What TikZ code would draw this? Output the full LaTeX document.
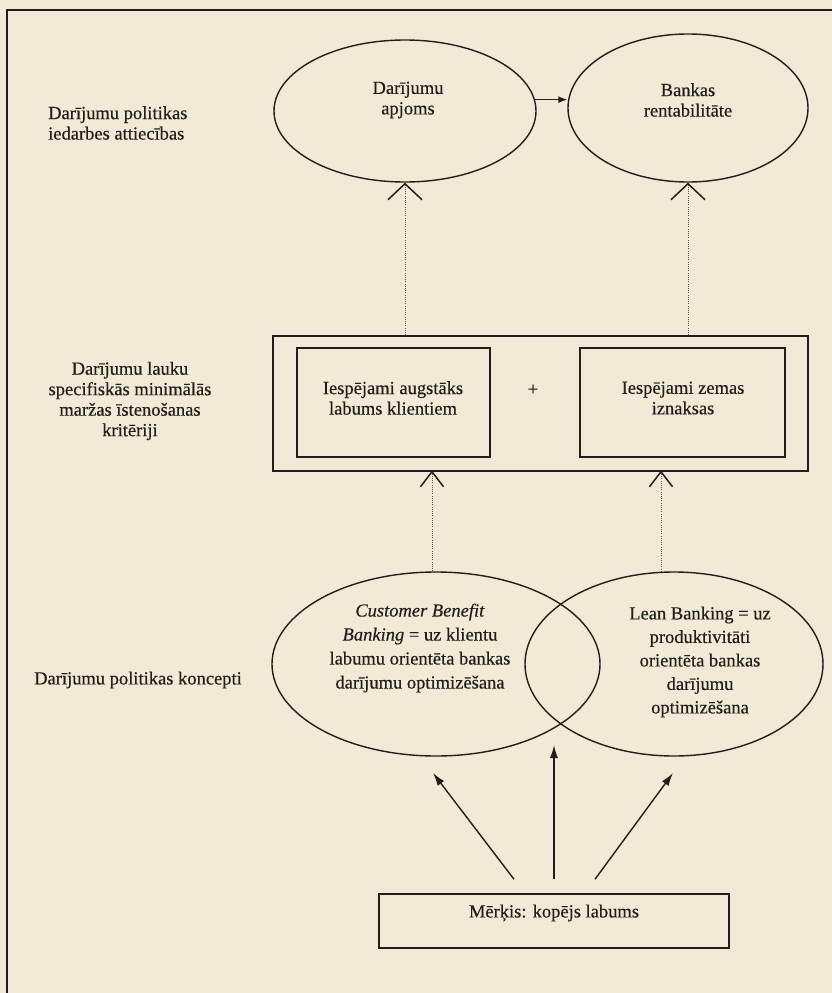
\documentclass[tikz,border=0pt]{standalone}
\usepackage{fontspec}
\setmainfont{Liberation Serif}[FakeBold=0.4]
\usetikzlibrary{shapes.geometric,arrows.meta,calc}
\definecolor{paper}{RGB}{242,234,214}
\definecolor{ink}{RGB}{34,30,27}
\begin{document}
\begin{tikzpicture}[x=1pt,y=-1pt,
  every node/.style={text=ink},
  txt/.style={align=center, inner sep=0pt, font=\fontsize{18.5}{20.5}\selectfont},
  widetxt/.style={align=center, inner sep=0pt, font=\fontsize{18.5}{24}\selectfont},
  oval/.style={draw=ink, line width=1.4pt, ellipse, inner sep=0pt},
  box/.style={draw=ink, line width=1.5pt, rectangle, inner sep=0pt},
  dotline/.style={draw=ink!75, line width=0.8pt, dash pattern=on 1pt off 1.2pt},
  barbwide/.style={-{Straight Barb[length=16pt,width=34pt,line width=1.5pt,color=ink]}},
  barbnarrow/.style={-{Straight Barb[length=15pt,width=23pt,line width=1.5pt,color=ink]}},
  solidarrow/.style={draw=ink, line width=1.4pt, -{Latex[length=13pt,width=8pt]}},
]
% page and frame
\fill[paper] (0,0) rectangle (832,993);
\useasboundingbox (0,0) rectangle (832,993);
\draw[ink, line width=1.6pt] (832,10) -- (7,10) -- (7,993);

% upper level: volume and profitability
\node[oval, minimum width=262pt, minimum height=142pt] (e1) at (405,111) {};
\node[oval, minimum width=240pt, minimum height=148pt] (e2) at (688,108) {};
\node[txt] (t1) at (408,100) {Darījumu\\apjoms};
\node[txt] (t2) at (688,100) {Bankas\\rentabilitāte};
\draw[draw=ink, line width=1.4pt, -{Latex[length=9pt,width=7pt]}] (e1.5) -- (e2.west |- e1.5);

% middle level: benefit and cost boxes
\node[box, minimum width=535pt, minimum height=135pt] (outer) at (540.5,403.5) {};
\node[box, minimum width=193pt, minimum height=109pt] (b1) at (393.5,402.5) {};
\node[box, minimum width=205pt, minimum height=109pt] (b2) at (682.5,402.5) {};
\node[txt] (tb1) at (393,398) {Iespējami augstāks\\labums klientiem};
\node[txt] (tb2) at (683,398) {Iespējami zemas\\iznaksas};
\node[txt] (plus) at (533,390) {+};

% lower level: the two concepts
\node[oval, minimum width=328pt, minimum height=184pt] (cb) at (436,664) {};
\node[oval, minimum width=298pt, minimum height=184pt] (lb) at (674,664) {};
\node[widetxt] (tcb) at (420,648) {\textit{Customer Benefit}\\\textit{Banking} = uz klientu\\labumu orientēta bankas\\darījumu optimizēšana};
\node[widetxt, font=\fontsize{18.5}{23.5}\selectfont] (tlb) at (700,662) {Lean Banking = uz\\produktivitāti\\orientēta bankas\\darījumu\\optimizēšana};

% goal
\node[box, minimum width=350pt, minimum height=54pt] (goal) at (554,921) {};
\node[txt] (gtxt) at (554,913) {Mērķis: kopējs labums};

% row captions
\node[txt, align=left, anchor=west] (cap1) at (48,123) {Darījumu politikas\\iedarbes attiecības};
\node[txt] (cap2) at (130,401) {Darījumu lauku\\specifiskās minimālās\\maržas īstenošanas\\kritēriji};
\node[txt, anchor=west] (cap3) at (34,680) {Darījumu politikas koncepti};

% dotted links between levels
\draw[dotline, barbwide] (outer.north -| e1.south) -- (e1.south);
\draw[dotline, barbwide] (outer.north -| e2.south) -- (e2.south);
\coordinate (lk1) at (432,470.5);
\coordinate (lk2) at (661,470.5);
\draw[dotline, barbnarrow] (lk1 |- cb.north) -- (lk1);
\draw[dotline, barbnarrow] ($(lk2 |- lb.north)+(0,0.5)$) -- (lk2);

% arrows from the goal
\coordinate (tipL) at (433,773);
\coordinate (tipM) at (554,745);
\coordinate (tipR) at (673,773);
\draw[solidarrow] ([shift={(-40,-14)}]goal.north) -- (tipL);
\draw[solidarrow] ([shift={(0,-14)}]goal.north) -- (tipM);
\draw[solidarrow] ([shift={(41,-14)}]goal.north) -- (tipR);
\end{tikzpicture}
\end{document}
